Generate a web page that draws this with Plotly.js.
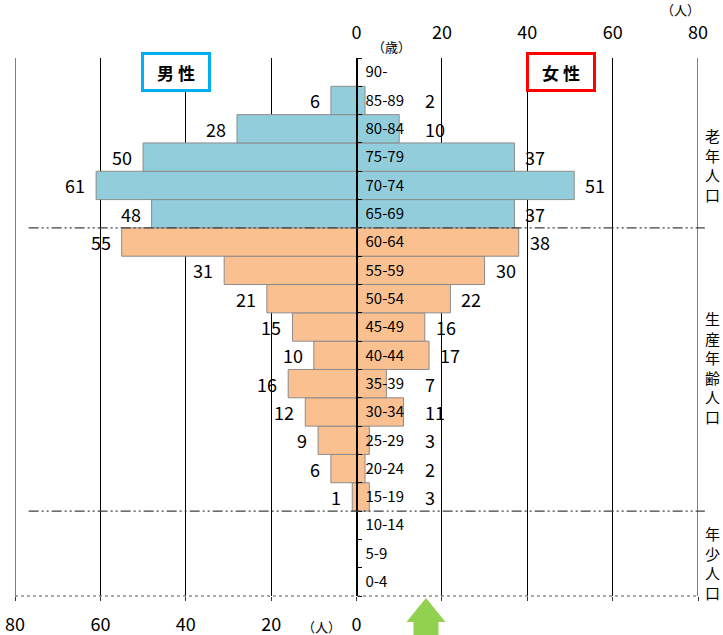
<!DOCTYPE html>
<html>
<head>
<meta charset="utf-8">
<script src="https://cdn.plot.ly/plotly-3.0.1.min.js"></script>
<style>html,body{margin:0;padding:0;background:#fff;}#chart{width:723px;height:635px;}</style>
</head>
<body>
<div id="chart"></div>
<script>
// Age groups (bottom to top)
const ageGroups = ['0-4','5-9','10-14','15-19','20-24','25-29','30-34','35-39','40-44','45-49','50-54','55-59','60-64','65-69','70-74','75-79','80-84','85-89','90-'];
const maleValues   = [0,0,0,1,6,9,12,16,10,15,21,31,55,48,61,50,28,6,0];
const femaleValues = [0,0,0,3,2,3,11,7,17,16,22,30,38,37,51,37,10,2,0];
// population band of each age group
const bandOfGroup = ['年少','年少','年少','生産','生産','生産','生産','生産','生産','生産','生産','生産','生産','老年','老年','老年','老年','老年','老年'];
const bandLabels = {'老年':'老年人口','生産':'生産年齢人口','年少':'年少人口'};
const topTickVals = [0,20,40,60,80];
const bottomTickVals = [-80,-60,-40,-20,0,20,40,60,80];
const bottomTickText = ['80','60','40','20','0','','','',''];
const axisEnds = [-80,80];

const BLUE = '#92CDDC', ORANGE = '#FAC090';
const barColors = bandOfGroup.map(b => b === '老年' ? BLUE : ORANGE);
const FONT = 'Noto Sans CJK JP, Noto Sans, sans-serif';

const traces = [
  {type:'bar', orientation:'h', y:ageGroups, x:maleValues.map(v=>-v),
   marker:{color:barColors, line:{color:'#8C8C8C', width:1}}, hoverinfo:'skip', xaxis:'x', yaxis:'y'},
  {type:'bar', orientation:'h', y:ageGroups, x:femaleValues,
   marker:{color:barColors, line:{color:'#8C8C8C', width:1}}, hoverinfo:'skip', xaxis:'x', yaxis:'y'}
];

const annotations = [];
ageGroups.forEach((g,i)=>{
  if (maleValues[i] > 0) annotations.push({x:-maleValues[i], y:g, xref:'x', yref:'y', text:String(maleValues[i]),
    showarrow:false, xanchor:'right', xshift:-9, font:{family:FONT, size:18, color:'#000'}});
  if (femaleValues[i] > 0) annotations.push({x:Math.max(femaleValues[i], 13.4), y:g, xref:'x', yref:'y', text:String(femaleValues[i]),
    showarrow:false, xanchor:'left', xshift:9, font:{family:FONT, size:18, color:'#000'}});
});
// legend boxes
annotations.push({x:-42.2, y:'90-', xref:'x', yref:'y', yshift:0, text:'<b>男 性</b>', showarrow:false,
  bgcolor:'#fff', bordercolor:'#00B0F0', borderwidth:3, borderpad:2, width:60, height:30,
  font:{family:FONT, size:17, color:'#000'}});
annotations.push({x:47.8, y:'90-', xref:'x', yref:'y', text:'<b>女 性</b>', showarrow:false,
  bgcolor:'#fff', bordercolor:'#FF0000', borderwidth:3, borderpad:2, width:60, height:30,
  font:{family:FONT, size:17, color:'#000'}});
// unit labels
annotations.push({x:8.2, y:1.021, xref:'x', yref:'paper', yanchor:'middle', text:'（歳）', showarrow:false, font:{family:FONT, size:13, color:'#000'}});
annotations.push({x:1.006, y:1.09, xref:'paper', yref:'paper', yanchor:'middle', text:'（人）', showarrow:false, font:{family:FONT, size:13, color:'#000'}});
annotations.push({x:-8.2, y:-0.056, xref:'x', yref:'paper', yanchor:'middle', text:'（人）', showarrow:false, font:{family:FONT, size:13, color:'#000'}});
// band labels (vertical text)
const bandY = {'老年':0.801, '生産':0.424, '年少':0.061};
Object.keys(bandLabels).forEach(k=>{
  annotations.push({x:1.0205, y:bandY[k], xref:'paper', yref:'paper', text:bandLabels[k].split('').join('<br>'),
    showarrow:false, xanchor:'center', yanchor:'middle', font:{family:FONT, size:15, color:'#000'}});
});

// band boundaries (between groups)
const boundaries = [];
for (let i=1;i<bandOfGroup.length;i++) if (bandOfGroup[i]!==bandOfGroup[i-1]) boundaries.push(i-0.5);
const shapes = [];
axisEnds.forEach(v=>shapes.push({type:'line', xref:'x', yref:'paper', x0:v, x1:v, y0:0, y1:1, line:{color:'#000', width:1}, layer:'below'}));
boundaries.forEach(b=>shapes.push({type:'line', xref:'paper', yref:'y', x0:0.02, x1:1.01, y0:b, y1:b,
  line:{color:'#404040', width:1.3, dash:'10px,3px,2px,3px,2px,3px'}, layer:'above'}));
shapes.push({type:'line', xref:'paper', yref:'paper', x0:0, x1:1, y0:0, y1:0, line:{color:'#555', width:1, dash:'dot'}, layer:'above'});
shapes.push({type:'path', xref:'paper', yref:'paper', xanchor:0.6017, yanchor:0, xsizemode:'pixel', ysizemode:'pixel',
  path:'M 0,-2 L 19.5,-26 L 12.5,-26 L 12.5,-45 L -12.5,-45 L -12.5,-26 L -19.5,-26 Z',
  fillcolor:'#92D050', line:{width:0}, layer:'above'});

const layout = {
  width:723, height:635,
  margin:{l:15, r:25, t:58, b:39},
  paper_bgcolor:'#fff', plot_bgcolor:'#fff',
  showlegend:false, barmode:'relative', bargap:0,
  font:{family:FONT, color:'#000'},
  xaxis:{range:[-80,80], tickvals:bottomTickVals, ticktext:bottomTickText, showgrid:true, gridcolor:'#000', gridwidth:1,
    zeroline:false, showline:false, ticks:'outside', ticklen:4, tickcolor:'#333', ticklabelstandoff:8,
    tickfont:{family:FONT, size:18, color:'#000'}, fixedrange:true},
  xaxis2:{range:[-80,80], overlaying:'x', side:'top', anchor:'y', tickvals:topTickVals, ticktext:topTickVals.map(String),
    showgrid:false, zeroline:false, showline:false, ticks:'', ticklabelstandoff:14,
    tickfont:{family:FONT, size:18, color:'#000'}, fixedrange:true},
  yaxis:{type:'category', categoryorder:'array', categoryarray:ageGroups, range:[-0.5,18.5],
    anchor:'free', position:0.5, side:'right', showline:true, linecolor:'#000', linewidth:2,
    ticks:'outside', tickson:'boundaries', ticklen:4, tickcolor:'#000', tickwidth:1, ticklabelstandoff:5,
    showgrid:false, zeroline:false, tickfont:{family:FONT, size:15, color:'#000'}, fixedrange:true},
  annotations:annotations,
  shapes:shapes
};
// invisible trace so xaxis2 renders
traces.push({type:'scatter', x:[0], y:[ageGroups[0]], xaxis:'x2', yaxis:'y', mode:'markers', marker:{opacity:0}, hoverinfo:'skip'});

Plotly.newPlot('chart', traces, layout, {staticPlot:true, displayModeBar:false});
</script>
</body>
</html>
